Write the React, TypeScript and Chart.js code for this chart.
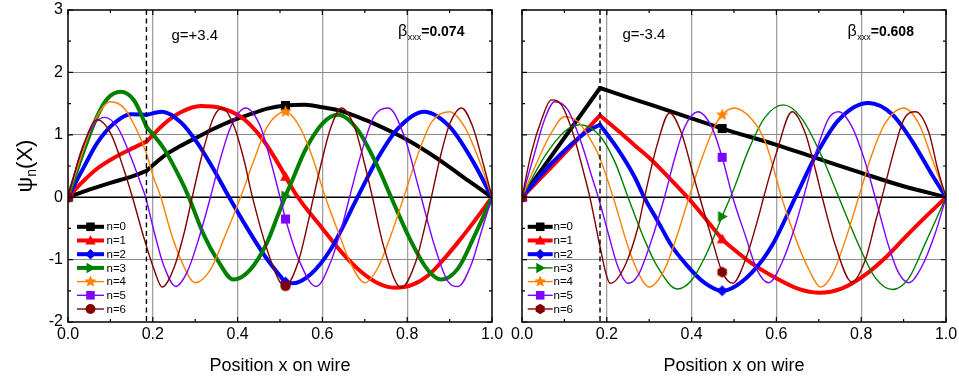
import React, { useEffect, useRef } from 'react';
import { Chart, registerables } from 'chart.js';

Chart.register(...registerables);

type Pt = [number, number];

// ---------- data ----------
const LABELS = ['n=0', 'n=1', 'n=2', 'n=3', 'n=4', 'n=5', 'n=6'];
const COLORS = ['#000000', '#ff0000', '#0000ff', '#008000', '#ff8000', '#8000ff', '#800000'];
const MARKERS_L = ['square', 'triUp', 'diamond', 'triRight', 'star', 'square', 'circle'];
const MARKERS_R = ['square', 'triUp', 'diamond', 'triRight', 'star', 'square', 'hex'];
const MARKER_SIZE = [9, 11, 11, 11, 13, 9, 11];

const X_MIN = 0, X_MAX = 1, X_STEP = 0.2;
const Y_MIN = -2, Y_MAX = 3, Y_STEP = 1;
const X_TITLE = 'Position x on wire';

const KINK_L = 0.185, MARK_L = 0.513;
const KINK_R = 0.184, MARK_R = 0.472;
const G_LEFT = 'g=+3.4', G_RIGHT = 'g=-3.4';
const BETA_LEFT = '=0.074', BETA_RIGHT = '=0.608';

// left panel (g = +3.4)
const L_N0: Pt[] = [[0,0],[0.05,0.12],[0.1,0.23],[0.15,0.33],[0.185,0.42],[0.226,0.66],[0.265,0.82],[0.305,0.96],[0.345,1.1],[0.384,1.22],[0.43,1.33],[0.47,1.42],[0.513,1.47],[0.56,1.48],[0.6,1.44],[0.645,1.38],[0.704,1.23],[0.731,1.15],[0.783,0.98],[0.81,0.88],[0.862,0.66],[0.89,0.53],[0.945,0.26],[1,0]];
const L_N1: Pt[] = [[0,0],[0.035,0.25],[0.069,0.46],[0.108,0.63],[0.148,0.77],[0.185,0.89],[0.226,1.17],[0.266,1.36],[0.313,1.46],[0.36,1.43],[0.4,1.32],[0.43,1.16],[0.462,0.9],[0.5,0.49],[0.513,0.33],[0.542,0],[0.6,-0.5],[0.645,-0.88],[0.692,-1.2],[0.731,-1.38],[0.77,-1.45],[0.81,-1.41],[0.85,-1.25],[0.888,-0.98],[0.92,-0.72],[0.95,-0.46],[1,0]];
const L_N2: Pt[] = [[0,0],[0.038,0.49],[0.069,0.87],[0.108,1.18],[0.148,1.33],[0.185,1.32],[0.222,1.37],[0.266,1.2],[0.305,0.87],[0.344,0.44],[0.38,0],[0.423,-0.5],[0.462,-0.92],[0.5,-1.26],[0.513,-1.36],[0.53,-1.38],[0.573,-1.23],[0.62,-0.83],[0.683,0],[0.731,0.63],[0.778,1.1],[0.84,1.37],[0.9,1.13],[0.952,0.61],[1,0]];
const L_N3: Pt[] = [[0,0],[0.038,0.76],[0.069,1.3],[0.093,1.58],[0.124,1.69],[0.156,1.55],[0.185,1.13],[0.226,0.78],[0.266,0.28],[0.285,0],[0.32,-0.6],[0.352,-1.0],[0.39,-1.32],[0.43,-1.16],[0.47,-0.72],[0.495,-0.29],[0.513,0.02],[0.527,0.24],[0.56,0.76],[0.6,1.18],[0.637,1.32],[0.683,1.08],[0.731,0.48],[0.762,0],[0.81,-0.72],[0.849,-1.17],[0.88,-1.32],[0.92,-1.14],[0.96,-0.6],[1,0]];
const L_N4: Pt[] = [[0,0],[0.038,0.79],[0.061,1.2],[0.1,1.53],[0.132,1.43],[0.164,1.05],[0.185,0.7],[0.2,0.35],[0.219,0],[0.242,-0.55],[0.266,-1.0],[0.3,-1.37],[0.336,-1.16],[0.368,-0.66],[0.407,0],[0.439,0.6],[0.47,1.13],[0.513,1.37],[0.542,1.18],[0.573,0.71],[0.607,0],[0.637,-0.55],[0.668,-1.08],[0.7,-1.37],[0.731,-1.13],[0.762,-0.6],[0.792,0],[0.825,0.68],[0.857,1.2],[0.9,1.37],[0.935,1.13],[0.967,0.64],[1,0]];
const L_N5: Pt[] = [[0,0],[0.038,0.87],[0.085,1.28],[0.116,1.13],[0.148,0.65],[0.171,0.23],[0.183,0],[0.203,-0.55],[0.226,-1.1],[0.254,-1.43],[0.281,-1.2],[0.305,-0.74],[0.336,0],[0.36,0.63],[0.384,1.13],[0.419,1.43],[0.454,1.13],[0.478,0.58],[0.5,0],[0.513,-0.35],[0.542,-0.96],[0.585,-1.43],[0.62,-1.03],[0.652,-0.32],[0.664,0],[0.692,0.71],[0.72,1.27],[0.755,1.43],[0.794,0.96],[0.825,0.2],[0.833,0],[0.865,-0.79],[0.896,-1.35],[0.92,-1.43],[0.951,-1.08],[0.975,-0.55],[1,0]];
const L_N6: Pt[] = [[0,0],[0.03,0.71],[0.069,1.24],[0.1,1.03],[0.132,0.44],[0.152,0],[0.179,-0.65],[0.203,-1.16],[0.222,-1.44],[0.25,-1.13],[0.274,-0.57],[0.293,0],[0.32,0.78],[0.344,1.29],[0.364,1.43],[0.392,1.13],[0.415,0.6],[0.435,0],[0.47,-0.85],[0.5,-1.36],[0.513,-1.42],[0.542,-1.06],[0.563,-0.5],[0.579,0],[0.6,0.62],[0.62,1.12],[0.645,1.43],[0.676,1.12],[0.7,0.52],[0.718,0],[0.745,-0.8],[0.786,-1.45],[0.82,-1.04],[0.84,-0.52],[0.857,0],[0.88,0.7],[0.9,1.17],[0.928,1.43],[0.955,1.12],[0.98,0.52],[1,0]];

// right panel (g = -3.4)
const R_N0: Pt[] = [[0,0],[0.184,1.75],[0.25,1.6],[0.305,1.48],[0.384,1.3],[0.472,1.1],[0.6,0.84],[0.693,0.63],[0.8,0.39],[0.888,0.2],[1,0]];
const R_N1: Pt[] = [[0,0],[0.093,0.65],[0.184,1.31],[0.226,1.07],[0.266,0.83],[0.305,0.6],[0.344,0.33],[0.39,0],[0.43,-0.32],[0.472,-0.67],[0.495,-0.81],[0.542,-1.06],[0.6,-1.3],[0.652,-1.47],[0.7,-1.53],[0.755,-1.46],[0.81,-1.24],[0.857,-0.97],[0.904,-0.64],[0.951,-0.32],[1,0]];
const R_N2: Pt[] = [[0,0],[0.05,0.4],[0.093,0.7],[0.13,0.93],[0.16,1.08],[0.184,1.16],[0.226,0.77],[0.266,0.32],[0.288,0],[0.32,-0.38],[0.352,-0.77],[0.39,-1.1],[0.43,-1.37],[0.472,-1.5],[0.495,-1.46],[0.542,-1.21],[0.59,-0.77],[0.645,0],[0.693,0.67],[0.747,1.24],[0.817,1.51],[0.873,1.33],[0.92,0.9],[0.967,0.36],[1,0]];
const R_N3: Pt[] = [[0,0],[0.053,0.65],[0.1,1.05],[0.136,1.16],[0.184,0.98],[0.22,0.55],[0.25,0],[0.29,-0.7],[0.32,-1.12],[0.366,-1.47],[0.4,-1.33],[0.439,-0.85],[0.472,-0.31],[0.5,0.14],[0.535,0.77],[0.573,1.28],[0.617,1.48],[0.66,1.26],[0.708,0.64],[0.747,0],[0.795,-0.78],[0.833,-1.29],[0.873,-1.48],[0.912,-1.3],[0.951,-0.74],[1,0]];
const R_N4: Pt[] = [[0,0],[0.038,0.6],[0.069,1.03],[0.1,1.29],[0.132,1.21],[0.171,0.81],[0.184,0.62],[0.215,0],[0.25,-0.79],[0.274,-1.21],[0.3,-1.44],[0.336,-1.16],[0.368,-0.57],[0.394,0],[0.423,0.6],[0.454,1.13],[0.472,1.32],[0.5,1.43],[0.542,1.25],[0.573,0.9],[0.6,0.3],[0.612,0],[0.652,-0.78],[0.676,-1.15],[0.704,-1.44],[0.731,-1.25],[0.762,-0.7],[0.794,0],[0.825,0.68],[0.857,1.19],[0.9,1.43],[0.935,1.19],[0.967,0.62],[1,0]];
const R_N5: Pt[] = [[0,0],[0.03,0.71],[0.053,1.24],[0.077,1.53],[0.108,1.4],[0.14,0.87],[0.167,0.28],[0.18,0],[0.203,-0.57],[0.226,-1.11],[0.25,-1.38],[0.274,-1.25],[0.305,-0.7],[0.336,0],[0.36,0.62],[0.384,1.13],[0.415,1.37],[0.447,1.13],[0.472,0.64],[0.497,0],[0.527,-0.62],[0.554,-1.16],[0.582,-1.37],[0.613,-1.05],[0.644,-0.47],[0.664,0],[0.693,0.71],[0.724,1.27],[0.747,1.37],[0.778,1.13],[0.81,0.55],[0.833,0],[0.865,-0.79],[0.888,-1.21],[0.912,-1.37],[0.943,-1.11],[0.975,-0.57],[1,0]];
const R_N6: Pt[] = [[0,0],[0.022,0.71],[0.046,1.24],[0.069,1.56],[0.093,1.48],[0.12,1.03],[0.148,0.33],[0.16,0],[0.184,-0.79],[0.199,-1.25],[0.208,-1.38],[0.242,-1.11],[0.274,-0.47],[0.289,0],[0.32,0.87],[0.348,1.35],[0.376,1.03],[0.407,0.28],[0.419,0],[0.447,-0.65],[0.462,-1.0],[0.472,-1.2],[0.497,-1.38],[0.527,-1.0],[0.558,-0.31],[0.57,0],[0.6,0.71],[0.637,1.37],[0.668,1.03],[0.692,0.44],[0.708,0],[0.74,-0.79],[0.778,-1.36],[0.81,-1.0],[0.833,-0.41],[0.849,0],[0.88,0.81],[0.9,1.24],[0.928,1.37],[0.96,1.03],[0.98,0.46],[1,0]];

const FONT = "'Liberation Sans', Arial, Helvetica, sans-serif";

interface PanelCfg {
  series: Pt[][];
  thick: boolean[];
  markers: string[];
  kink: number;
  mark: number;
  gText: string; gDx: number; gDy: number;
  betaVal: string; betaDx: number; betaDy: number;
  showYLabels: boolean;
  width: number; padRight: number; yWidth: number;
  legX0: number; legX1: number; legTextX: number;
}

function drawMarker(ctx: CanvasRenderingContext2D, shape: string, color: string, cx: number, cy: number, s: number) {
  ctx.save();
  ctx.fillStyle = color;
  ctx.beginPath();
  const h = s / 2;
  if (shape === 'square') {
    ctx.rect(cx - h, cy - h, s, s);
  } else if (shape === 'triUp') {
    ctx.moveTo(cx, cy - h); ctx.lineTo(cx + h, cy + h * 0.75); ctx.lineTo(cx - h, cy + h * 0.75); ctx.closePath();
  } else if (shape === 'triRight') {
    ctx.moveTo(cx + h, cy); ctx.lineTo(cx - h * 0.75, cy - h); ctx.lineTo(cx - h * 0.75, cy + h); ctx.closePath();
  } else if (shape === 'diamond') {
    ctx.moveTo(cx, cy - h); ctx.lineTo(cx + h, cy); ctx.lineTo(cx, cy + h); ctx.lineTo(cx - h, cy); ctx.closePath();
  } else if (shape === 'star') {
    for (let k = 0; k < 10; k++) {
      const r = k % 2 ? h * 0.45 : h;
      const a = -Math.PI / 2 + (k * Math.PI) / 5;
      const px = cx + r * Math.cos(a), py = cy + r * Math.sin(a);
      if (k === 0) ctx.moveTo(px, py); else ctx.lineTo(px, py);
    }
    ctx.closePath();
  } else if (shape === 'hex') {
    for (let k = 0; k < 6; k++) {
      const a = Math.PI / 6 + (k * Math.PI) / 3;
      const px = cx + h * Math.cos(a), py = cy + h * Math.sin(a);
      if (k === 0) ctx.moveTo(px, py); else ctx.lineTo(px, py);
    }
    ctx.closePath();
  } else if (shape === 'circle') {
    ctx.arc(cx, cy, h * 0.95, 0, Math.PI * 2);
  }
  ctx.fill();
  ctx.restore();
}

function markerImage(shape: string, i: number): HTMLCanvasElement {
  const s = MARKER_SIZE[i];
  const sz = Math.ceil(s) + 2;
  const c = document.createElement('canvas');
  c.width = sz; c.height = sz;
  const ctx = c.getContext('2d')!;
  drawMarker(ctx, shape, COLORS[i], sz / 2, sz / 2, s);
  return c;
}

function makeDecor(cfg: PanelCfg) {
  return {
    id: 'decor',
    beforeDatasetsDraw(chart: any) {
      const { ctx, chartArea: a } = chart;
      const y0 = chart.scales.y.getPixelForValue(0);
      ctx.save();
      ctx.strokeStyle = '#000';
      ctx.lineWidth = 1.6;
      ctx.beginPath(); ctx.moveTo(a.left, y0); ctx.lineTo(a.right, y0); ctx.stroke();
      ctx.restore();
    },
    afterDatasetsDraw(chart: any) {
      const { ctx, chartArea: a } = chart;
      const xs = chart.scales.x, ys = chart.scales.y;
      ctx.save();
      ctx.strokeStyle = '#000';
      // dashed kink line
      const kx = xs.getPixelForValue(cfg.kink);
      ctx.setLineDash([5, 3.5]);
      ctx.lineWidth = 1.4;
      ctx.beginPath(); ctx.moveTo(kx, a.top); ctx.lineTo(kx, a.bottom); ctx.stroke();
      ctx.setLineDash([]);
      // frame
      ctx.lineWidth = 1.5;
      ctx.strokeRect(a.left, a.top, a.right - a.left, a.bottom - a.top);
      // inward ticks
      ctx.lineWidth = 1.2;
      ctx.beginPath();
      const nx = Math.round((X_MAX - X_MIN) / (X_STEP / 2));
      for (let i = 0; i <= nx; i++) {
        const px = xs.getPixelForValue(X_MIN + (i * X_STEP) / 2);
        const len = i % 2 === 0 ? 5 : 3;
        ctx.moveTo(px, a.bottom); ctx.lineTo(px, a.bottom - len);
        ctx.moveTo(px, a.top); ctx.lineTo(px, a.top + len);
      }
      const ny = Math.round((Y_MAX - Y_MIN) / (Y_STEP / 2));
      for (let i = 0; i <= ny; i++) {
        const py = ys.getPixelForValue(Y_MIN + (i * Y_STEP) / 2);
        const len = i % 2 === 0 ? 5 : 3;
        ctx.moveTo(a.left, py); ctx.lineTo(a.left + len, py);
        ctx.moveTo(a.right, py); ctx.lineTo(a.right - len, py);
      }
      ctx.stroke();

      ctx.fillStyle = '#000';
      ctx.textBaseline = 'alphabetic';
      ctx.textAlign = 'left';
      // g label
      ctx.font = `15px ${FONT}`;
      ctx.fillText(cfg.gText, a.left + cfg.gDx, a.top + cfg.gDy);
      // beta label
      let bx = a.left + cfg.betaDx;
      const by = a.top + cfg.betaDy;
      ctx.font = `16px ${FONT}`;
      ctx.fillText('β', bx, by);
      bx += ctx.measureText('β').width + 0.5;
      ctx.font = `9px ${FONT}`;
      ctx.fillText('xxx', bx, by + 4);
      bx += ctx.measureText('xxx').width;
      ctx.font = `bold 14px ${FONT}`;
      ctx.fillText(cfg.betaVal, bx, by);

      // x title
      ctx.font = `18px ${FONT}`;
      ctx.textAlign = 'center';
      ctx.fillText(X_TITLE, (a.left + a.right) / 2, 371);

      // legend
      ctx.textAlign = 'left';
      ctx.textBaseline = 'middle';
      ctx.font = `11.5px ${FONT}`;
      for (let i = 0; i < LABELS.length; i++) {
        const ly = 226.8 + i * 13.7;
        ctx.strokeStyle = COLORS[i];
        ctx.lineWidth = cfg.thick[i] ? 4 : 1.4;
        ctx.beginPath();
        ctx.moveTo(a.left + cfg.legX0, ly); ctx.lineTo(a.left + cfg.legX1, ly);
        ctx.stroke();
        drawMarker(ctx, cfg.markers[i], COLORS[i], a.left + (cfg.legX0 + cfg.legX1) / 2, ly, MARKER_SIZE[i] * 0.95);
        ctx.fillStyle = '#000';
        ctx.fillText(LABELS[i], a.left + cfg.legTextX, ly + 0.5);
      }

      // y title
      if (cfg.showYLabels) {
        ctx.save();
        ctx.translate(26, 166);
        ctx.rotate(-Math.PI / 2);
        ctx.textBaseline = 'middle';
        ctx.font = `22px ${FONT}`;
        const w1 = ctx.measureText('ψ').width;
        const w3 = ctx.measureText('(X)').width;
        ctx.font = `14px ${FONT}`;
        const w2 = ctx.measureText('n').width;
        let tx = -(w1 + w2 + w3) / 2;
        ctx.font = `22px ${FONT}`;
        ctx.fillText('ψ', tx, 0); tx += w1;
        ctx.font = `14px ${FONT}`;
        ctx.fillText('n', tx, 6); tx += w2;
        ctx.font = `22px ${FONT}`;
        ctx.fillText('(X)', tx, 0);
        ctx.restore();
      }
      ctx.restore();
    },
  };
}

function buildDatasets(cfg: PanelCfg) {
  const datasets: any[] = [];
  cfg.series.forEach((pts, i) => {
    const thick = cfg.thick[i];
    const img = markerImage(cfg.markers[i], i);
    const parts = thick
      ? [pts.filter((p) => p[0] <= cfg.kink), pts.filter((p) => p[0] >= cfg.kink)]
      : [pts];
    parts.forEach((part) => {
      datasets.push({
        label: LABELS[i],
        data: part.map(([x, y]) => ({ x, y })),
        borderColor: COLORS[i],
        backgroundColor: COLORS[i],
        borderWidth: thick ? 4 : 1.4,
        pointStyle: img,
        pointRadius: (c: any) => {
          const r = c.raw;
          return r && (r.x === 0 || r.x === cfg.mark) ? 5 : 0;
        },
        cubicInterpolationMode: 'monotone',
        borderCapStyle: 'round',
        borderJoinStyle: 'round',
        order: 10 - i,
      });
    });
  });
  return datasets;
}

function Panel({ cfg, left }: { cfg: PanelCfg; left: number }) {
  const ref = useRef<HTMLCanvasElement>(null);
  useEffect(() => {
    const canvas = ref.current;
    if (!canvas) return;
    const tickFont = { family: FONT, size: 16 };
    const chart = new Chart(canvas, {
      type: 'line',
      data: { datasets: buildDatasets(cfg) },
      options: {
        animation: false,
        responsive: false,
        events: [],
        layout: { padding: { top: 10, right: cfg.padRight, left: 0, bottom: 0 } },
        plugins: { legend: { display: false }, tooltip: { enabled: false } },
        scales: {
          x: {
            type: 'linear',
            min: X_MIN,
            max: X_MAX,
            border: { display: false },
            grid: {
              drawTicks: false,
              lineWidth: 1.3,
              color: (c: any) => {
                const v = c.tick ? c.tick.value : 0;
                return Math.abs(v - X_MIN) < 1e-6 || Math.abs(v - X_MAX) < 1e-6 ? 'rgba(0,0,0,0)' : '#a0a0a0';
              },
            },
            ticks: {
              stepSize: X_STEP,
              autoSkip: false,
              maxRotation: 0,
              padding: 3,
              color: '#000',
              font: tickFont,
              callback: (v: any) => Number(v).toFixed(1),
            },
            afterFit: (s: any) => { s.height = 59; s.paddingLeft = 0; s.paddingRight = 0; },
          },
          y: {
            type: 'linear',
            min: Y_MIN,
            max: Y_MAX,
            border: { display: false },
            grid: {
              drawTicks: false,
              lineWidth: 1,
              color: (c: any) => {
                const v = c.tick ? c.tick.value : 0;
                return v === 0 || v === Y_MIN || v === Y_MAX ? 'rgba(0,0,0,0)' : '#8a8a8a';
              },
            },
            ticks: {
              display: cfg.showYLabels,
              stepSize: Y_STEP,
              padding: 5,
              color: '#000',
              font: tickFont,
            },
            afterFit: (s: any) => { s.width = cfg.yWidth; s.paddingTop = 0; s.paddingBottom = 0; },
          },
        },
      } as any,
      plugins: [makeDecor(cfg)],
    });
    return () => chart.destroy();
  }, []);
  return (
    <canvas
      ref={ref}
      width={cfg.width}
      height={381}
      style={{ position: 'absolute', left, top: 0, width: cfg.width, height: 381, display: 'block' }}
    />
  );
}

const LEFT_CFG: PanelCfg = {
  series: [L_N0, L_N1, L_N2, L_N3, L_N4, L_N5, L_N6],
  thick: [true, true, true, true, false, false, false],
  markers: MARKERS_L,
  kink: KINK_L,
  mark: MARK_L,
  gText: G_LEFT, gDx: 103.5, gDy: 29.5,
  betaVal: BETA_LEFT, betaDx: 330, betaDy: 25.5,
  showYLabels: true,
  width: 506, padRight: 14, yWidth: 68,
  legX0: 9, legX1: 36, legTextX: 38.5,
};

const RIGHT_CFG: PanelCfg = {
  series: [R_N0, R_N1, R_N2, R_N3, R_N4, R_N5, R_N6],
  thick: [true, true, true, false, false, false, false],
  markers: MARKERS_R,
  kink: KINK_R,
  mark: MARK_R,
  gText: G_RIGHT, gDx: 100.5, gDy: 28.5,
  betaVal: BETA_RIGHT, betaDx: 325.5, betaDy: 26,
  showYLabels: false,
  width: 453, padRight: 13, yWidth: 16,
  legX0: 5.7, legX1: 30.7, legTextX: 31.5,
};

export default function App() {
  return (
    <div style={{ position: 'absolute', left: 0, top: 0, width: 959, height: 381, background: '#fff' }}>
      <Panel cfg={LEFT_CFG} left={0} />
      <Panel cfg={RIGHT_CFG} left={506} />
    </div>
  );
}
